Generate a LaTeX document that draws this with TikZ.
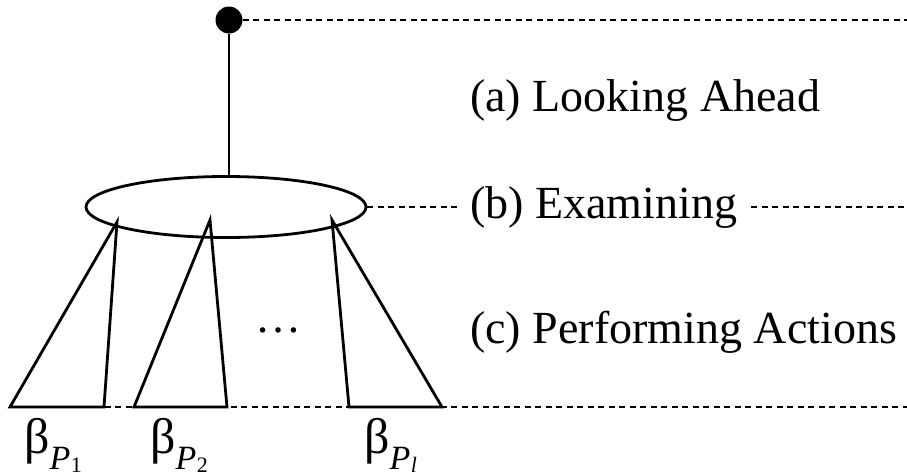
\documentclass[tikz,border=0pt]{standalone}
\usepackage{fontspec}
\setmainfont{Liberation Serif}
\usetikzlibrary{shapes.geometric}
\newcommand{\betaP}[1]{β\kern0pt\raisebox{-16pt}{\fontsize{34}{34}\selectfont\itshape P\kern0.5pt\raisebox{-3pt}{\fontsize{22}{22}\selectfont\upshape #1}}}
\begin{document}
\begin{tikzpicture}[x=1pt,y=-1pt,
  solidline/.style={line width=2.8pt},
  dashline/.style={line width=2.4pt, dash pattern=on 6pt off 4.5pt},
  label/.style={inner sep=0pt, anchor=west, font=\fontsize{46}{55}\selectfont},
  betalab/.style={inner sep=0pt, anchor=base west, font=\fontsize{50}{55}\selectfont}]
\useasboundingbox (0,0) rectangle (907,475);
\node[circle, fill=black, inner sep=0pt, minimum size=27pt] (root) at (229,20) {};
\node[ellipse, draw, solidline, inner sep=0pt, minimum width=280pt, minimum height=61pt] (ell) at (226,207) {};
\coordinate (topend) at (907,20);
\coordinate (ellend) at (460,207);
\coordinate (botstart) at (10,407);
\coordinate (botend) at (907,407);
\node[label] (a) at (470,100) {(a) Looking Ahead};
\node[label] (b) at (470,207) {(b) Examining};
\node[label] (c) at (470,332) {(c) Performing Actions};
\coordinate (bend) at (907,207);
\draw[dashline] (root.east) -- (topend);
\draw[dashline] (ell.east) -- (ellend);
\draw[dashline] ([xshift=14pt]b.east) -- (bend);
\draw[dashline] (botstart) -- (botend);
\draw[solidline] (root.south) -- (root.south |- ell.north);
% triangles
\coordinate (t1a) at (117,222);
\coordinate (t1l) at (10,407);
\coordinate (t1r) at (104,407);
\coordinate (t2a) at (210,220);
\coordinate (t2l) at (134,407);
\coordinate (t2r) at (227,407);
\coordinate (t3a) at (332,220);
\coordinate (t3l) at (349,407);
\coordinate (t3r) at (442,407);
\draw[solidline, line join=miter] (t1r) -- (t1a) -- (t1l) -- cycle;
\draw[solidline, line join=miter] (t2r) -- (t2a) -- (t2l) -- cycle;
\draw[solidline, line join=miter] (t3l) -- (t3a) -- (t3r) -- cycle;
\node[inner sep=0pt, font=\fontsize{46}{55}\selectfont] (dots) at (278,330) {\dots};
\node[betalab] (b1) at (24,453) {\betaP{1}};
\node[betalab] (b2) at (150,453) {\betaP{2}};
\node[betalab] (bl) at (364,453) {\betaP{\itshape l}};
\end{tikzpicture}
\end{document}
